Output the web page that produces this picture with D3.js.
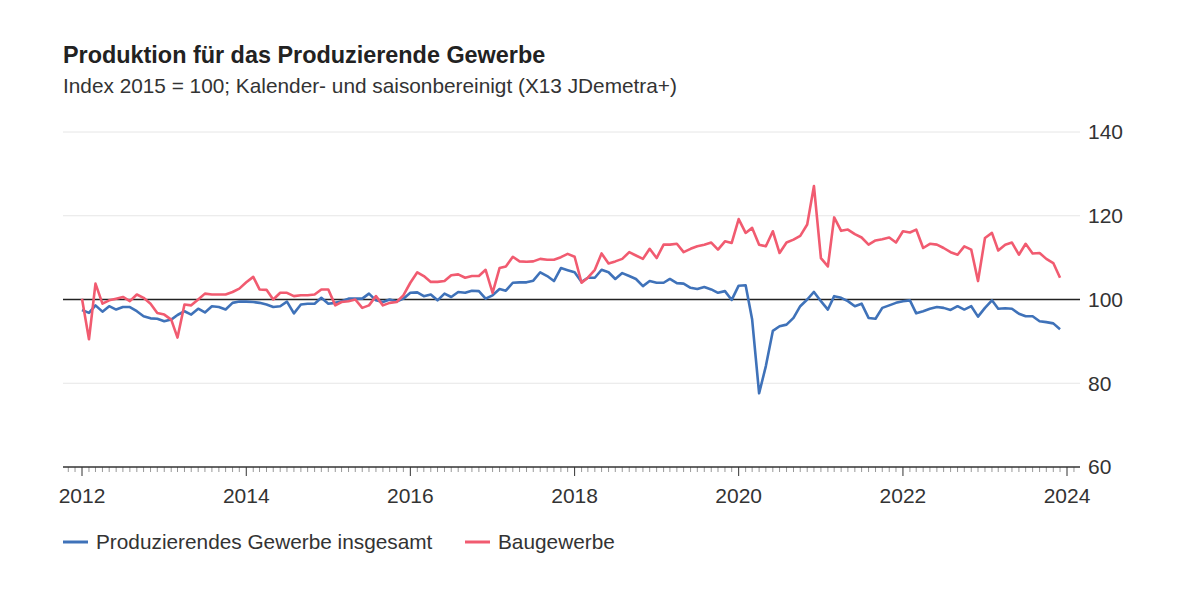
<!DOCTYPE html>
<html lang="de">
<head>
<meta charset="utf-8">
<title>Produktion für das Produzierende Gewerbe</title>
<script src="https://cdn.jsdelivr.net/npm/d3@7"></script>
<style>
    html, body { margin: 0; padding: 0; background: #fff; }
    body { font-family: "Liberation Sans", Arial, sans-serif; }
    .chart text { fill: #333; }
</style>
</head>
<body>
<div class="chart-area"></div>
<script>
// monthly values, Jan 2012 .. Dec 2023
const firstMonth = new Date(2012, 0, 1);

const gesamt = [
    97.5, 96.8, 98.6, 97.1, 98.4, 97.6, 98.2, 98.2, 97.2, 96.0, 95.5, 95.4,
    94.8, 95.2, 96.3, 97.2, 96.4, 97.8, 96.9, 98.4, 98.2, 97.6, 99.2, 99.5,
    99.5, 99.4, 99.2, 98.8, 98.2, 98.4, 99.5, 96.7, 98.8, 99.0, 99.0, 100.4,
    99.0, 99.2, 99.6, 100.2, 100.2, 100.2, 101.4, 99.8, 99.4, 100.0, 99.5, 100.2,
    101.6, 101.7, 100.8, 101.2, 99.8, 101.4, 100.6, 101.8, 101.6, 102.1, 102.0, 100.2,
    101.0, 102.5, 102.1, 104.0, 104.1, 104.1, 104.5, 106.5, 105.6, 104.4, 107.5, 107.0,
    106.5, 104.2, 105.2, 105.2, 107.1, 106.5, 104.9, 106.3, 105.6, 104.9, 103.2, 104.4,
    104.0, 104.0, 104.9, 103.9, 103.8, 102.8, 102.5, 103.0, 102.4, 101.6, 102.0, 99.9,
    103.3, 103.4, 95.2, 77.6, 84.1, 92.5, 93.6, 94.0, 95.6, 98.4, 100.0, 101.8,
    99.6, 97.6, 100.8, 100.4, 99.6, 98.4, 99.0, 95.6, 95.4, 98.0, 98.6, 99.2,
    99.6, 99.8, 96.7, 97.2, 97.8, 98.2, 98.0, 97.5, 98.4, 97.6, 98.4, 95.9,
    98.0, 99.8, 97.8, 97.9, 97.8, 96.6, 96.0, 96.0, 94.8, 94.6, 94.3, 92.9
];

const bau = [
    100.2, 90.5, 103.8, 99.0, 99.8, 100.2, 100.6, 99.6, 101.2, 100.4, 99.0, 96.8,
    96.4, 95.2, 90.9, 98.8, 98.6, 100.0, 101.4, 101.2, 101.2, 101.2, 101.8, 102.6,
    104.1, 105.4, 102.4, 102.3, 100.0, 101.6, 101.6, 100.8, 101.0, 101.0, 101.2, 102.4,
    102.4, 98.6, 99.4, 99.6, 100.0, 98.0, 98.6, 100.8, 98.6, 99.2, 99.4, 101.0,
    104.0, 106.5, 105.6, 104.2, 104.2, 104.4, 105.8, 106.0, 105.2, 105.6, 105.6, 107.1,
    101.6, 107.5, 107.9, 110.2, 109.1, 109.0, 109.1, 109.7, 109.5, 109.5, 110.1, 110.9,
    110.2, 104.0, 105.2, 107.1, 111.0, 108.6, 109.1, 109.7, 111.3, 110.5, 109.7, 112.1,
    109.9, 113.1, 113.1, 113.3, 111.3, 112.1, 112.7, 113.1, 113.6, 111.9, 113.9, 113.5,
    119.2, 115.9, 117.1, 113.1, 112.7, 116.3, 111.1, 113.6, 114.3, 115.2, 117.9, 127.1,
    109.9, 107.9, 119.6, 116.4, 116.7, 115.6, 114.8, 113.1, 114.1, 114.4, 114.8, 113.6,
    116.3, 116.0, 116.7, 112.3, 113.3, 113.1, 112.3, 111.3, 110.7, 112.7, 111.9, 104.4,
    114.7, 115.9, 111.7, 113.1, 113.6, 110.7, 113.3, 111.0, 111.1, 109.7, 108.7, 105.2
];

const seriesNames = ["Produzierendes Gewerbe insgesamt", "Baugewerbe"];
const seriesColors = ["#3f72b9", "#f15b70"];
const yTicks = [60, 80, 100, 120, 140];
const xLabelYears = [2012, 2014, 2016, 2018, 2020, 2022, 2024];

const width = 1200;
const height = 600;
const left = 63;
const right = 1080;

const months = gesamt.map((d, i) => d3.timeMonth.offset(firstMonth, i));

const svg = d3.select(".chart-area").append("svg")
    .attr("class", "chart")
    .attr("width", width)
    .attr("height", height)
    .attr("viewBox", `0 0 ${width} ${height}`);

// titles
svg.append("text")
    .attr("x", left).attr("y", 63)
    .attr("font-size", 23.4).attr("font-weight", "bold")
    .style("fill", "#222")
    .text("Produktion für das Produzierende Gewerbe");
svg.append("text")
    .attr("x", left).attr("y", 93)
    .attr("font-size", 20.8)
    .text("Index 2015 = 100; Kalender- und saisonbereinigt (X13 JDemetra+)");

const x = d3.scaleTime()
    .domain([new Date(2012, 0, 1), new Date(2024, 0, 1)])
    .range([82, 1067]);
const y = d3.scaleLinear()
    .domain([60, 140])
    .range([467, 132]);

// gridlines
svg.append("g").selectAll("line")
    .data(yTicks.filter(t => t !== 60 && t !== 100))
    .enter().append("line")
    .attr("x1", left).attr("x2", right)
    .attr("y1", d => y(d)).attr("y2", d => y(d))
    .attr("stroke", "#e6e6e6").attr("stroke-width", 1);

// y labels on the right
svg.append("g").selectAll("text")
    .data(yTicks)
    .enter().append("text")
    .attr("x", 1088)
    .attr("y", d => y(d))
    .attr("dy", "0.35em")
    .attr("font-size", 21)
    .text(d => d);

// x axis: a tick every month, long ticks on the labelled years
const tickMonths = d3.timeMonth.range(new Date(2011, 9, 1), new Date(2024, 3, 1))
    .filter(d => x(d) >= left - 1 && x(d) <= right);
const isMajor = d => d.getMonth() === 0 && d.getFullYear() % 2 === 0;
const xAxis = svg.append("g");
xAxis.selectAll("line.tick")
    .data(tickMonths)
    .enter().append("line")
    .attr("class", "tick")
    .attr("x1", d => x(d)).attr("x2", d => x(d))
    .attr("y1", y(60))
    .attr("y2", d => isMajor(d) ? y(60) + 9 : y(60) + 5)
    .attr("stroke", d => isMajor(d) ? "#333" : "#999")
    .attr("stroke-width", 1);
xAxis.append("line")
    .attr("x1", left).attr("x2", right)
    .attr("y1", y(60)).attr("y2", y(60))
    .attr("stroke", "#333").attr("stroke-width", 1.5);
xAxis.selectAll("text")
    .data(xLabelYears)
    .enter().append("text")
    .attr("x", d => x(new Date(d, 0, 1)))
    .attr("y", 503)
    .attr("text-anchor", "middle")
    .attr("font-size", 21)
    .text(d => d);

// 100 reference line
svg.append("line")
    .attr("x1", left).attr("x2", right)
    .attr("y1", y(100)).attr("y2", y(100))
    .attr("stroke", "#222").attr("stroke-width", 1.3);

const line = d3.line()
    .x((d, i) => x(months[i]))
    .y(d => y(d));

[gesamt, bau].forEach((values, k) => {
    svg.append("path")
        .datum(values)
        .attr("fill", "none")
        .attr("stroke", seriesColors[k])
        .attr("stroke-width", 2.6)
        .attr("stroke-linejoin", "round")
        .attr("d", line);
});

// legend
const legendX = [63, 465];
const legend = svg.append("g").selectAll("g")
    .data(seriesNames)
    .enter().append("g")
    .attr("transform", (d, i) => `translate(${legendX[i]}, 542)`);
legend.append("line")
    .attr("x1", 0).attr("x2", 25)
    .attr("stroke", (d, i) => seriesColors[i])
    .attr("stroke-width", 3);
legend.append("text")
    .attr("x", 33)
    .attr("dy", "0.35em")
    .attr("font-size", 20.8)
    .text(d => d);
</script>
</body>
</html>
